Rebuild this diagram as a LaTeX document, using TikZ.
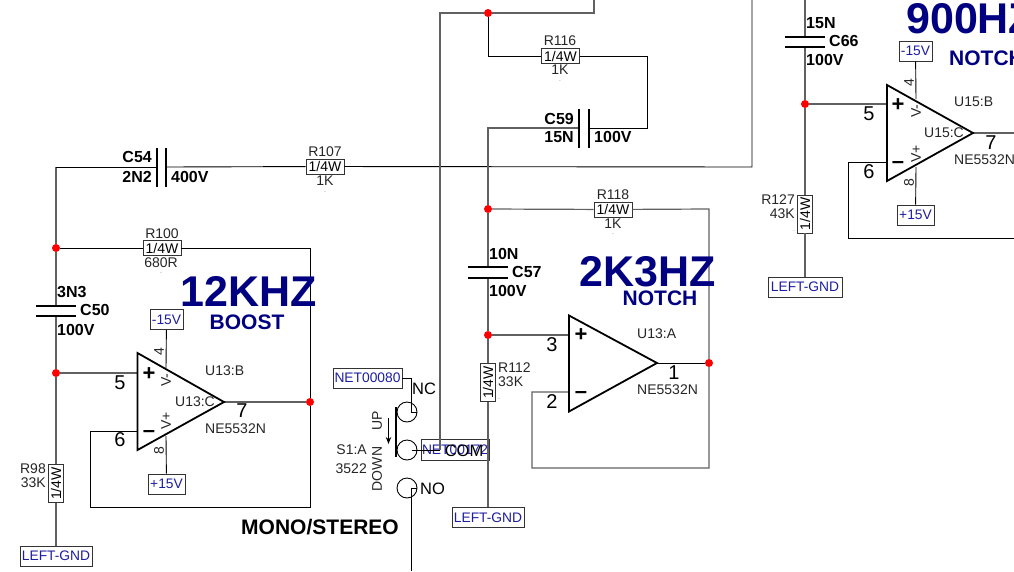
\documentclass[tikz,border=0pt]{standalone}
\usepackage{fontspec}
\setmainfont{Liberation Sans}
\usepackage{tikz}
\usetikzlibrary{arrows.meta}
\definecolor{labelnavy}{RGB}{0,0,128}
\definecolor{netblue}{RGB}{30,30,160}
\tikzset{
  wire/.style={draw=black,line width=0.9pt},
  softwire/.style={draw=black!62,line width=1.2pt},
  opamp/.style={draw=black,line width=1.8pt,line join=miter},
  junction/.style={circle,fill=red,draw=none,inner sep=0pt,minimum size=8pt},
  resbox/.style={draw=black!80,line width=0.9pt,fill=white,inner sep=0pt,minimum width=38pt,minimum height=15pt,font=\fontsize{14}{15}\selectfont},
  netbox/.style={draw=black!80,line width=0.9pt,fill=white,inner sep=0pt,minimum height=20pt,text=netblue,font=\fontsize{13.8}{15}\selectfont},
  vplate/.style={fill=black,inner sep=0pt,minimum width=1.5pt,minimum height=39pt},
  hplate/.style={fill=black,inner sep=0pt,minimum width=40pt,minimum height=1.5pt},
  txt/.style={inner sep=0pt,text=black!85,font=\fontsize{14}{15}\selectfont},
  capbold/.style={inner sep=0pt,font=\fontsize{16}{18}\selectfont\bfseries},
  pinnum/.style={inner sep=0pt,font=\fontsize{20}{22}\selectfont},
  signbold/.style={inner sep=0pt,font=\fontsize{22}{24}\selectfont\bfseries},
  swtxt/.style={inner sep=0pt,font=\fontsize{16.5}{18}\selectfont},
  bigtitle/.style={inner sep=0pt,text=labelnavy,font=\fontsize{43}{46}\selectfont\bfseries},
  subtitle/.style={inner sep=0pt,text=labelnavy,font=\fontsize{21}{23}\selectfont\bfseries},
  tinymark/.style={inner sep=0pt,font=\fontsize{5}{6}\selectfont},
  swcircle/.style={circle,draw=black,line width=0.9pt,inner sep=0pt,minimum size=20pt}
}
\begin{document}
\begin{tikzpicture}[x=1pt,y=-1pt]
\clip (0,0) rectangle (1014,571);
\useasboundingbox (0,0) rectangle (1014,571);
\fill[white] (0,0) rectangle (1014,571);
% 12 kHz boost
\node[junction] (j50) at (56,248) {};
\node[junction] (j51) at (56,373) {};
\node[junction] (j52) at (310,402) {};
\node[vplate] (c54a) at (157,167) {};
\node[vplate,minimum width=2pt] (c54b) at (166,167) {};
\node[hplate,minimum height=2pt] (c50a) at (56,306) {};
\node[hplate] (c50b) at (56,316) {};
\node[resbox] (r107) at (325,166.5) {1/4W};
\node[resbox] (r100) at (162,248) {1/4W};
\node[resbox,rotate=90] (r98) at (56,483.5) {1/4W};
\node[netbox,minimum width=72pt] (gnd1) at (56,556) {LEFT-GND};
\node[netbox,minimum width=33pt] (neg1) at (166.5,319.5) {-15V};
\node[netbox,minimum width=37pt] (pos1) at (166.5,484) {+15V};
\coordinate (u13p) at (137.5,373);
\coordinate (u13n) at (137.5,431);
\coordinate (u13o) at (224,402);
\coordinate (u13v) at (166,368);
\coordinate (u13w) at (166,436);
\coordinate (fb1a) at (90,431);
\coordinate (fb1b) at (90,507);
\coordinate (fb1c) at (310,507);
\coordinate (fb1d) at (310,248);
\coordinate (top1) at (56,167);
\coordinate (top2) at (752,167);
\coordinate (top3) at (752,0);
\draw[softwire] (top1) -- (j50) -- (c50a);
\draw[softwire] (c50b) -- (j51) -- (r98) -- (gnd1);
\draw[wire] (top1) -- (c54a);
\draw[wire] (c54b) -- (r107) -- (top2) -- (top3);
\draw[wire] (j50) -- (r100) -- (fb1d) -- (j52) -- (fb1c) -- (fb1b) -- (fb1a) -- (u13n);
\draw[softwire] (j51) -- (u13p);
\draw[softwire] (u13o) -- (j52);
\draw[wire] (neg1) -- (u13v);
\draw[wire] (pos1) -- (u13w);
\draw[opamp] (137.5,353) -- (137.5,450) -- (u13o) -- cycle;
\node[signbold] at (149,374) {+};
\node[signbold] at (149,434) {–};
\node[pinnum] at (120,383) {5};
\node[pinnum] at (120,440) {6};
\node[pinnum] at (242,411) {7};
\node[txt,rotate=90] at (159,352) {4};
\node[txt,rotate=90] at (159,451) {8};
\node[txt,rotate=90] at (166,380) {V-};
\node[txt,rotate=90] at (166,421) {V+};
\node[txt,anchor=west] at (205,371) {U13:B};
\node[txt] at (195,402) {U13:C};
\node[txt,anchor=west] at (205,429) {NE5532N};
\node[capbold,anchor=east] at (152,157) {C54};
\node[capbold,anchor=east] at (152,177) {2N2};
\node[capbold,anchor=west] at (171,177) {400V};
\node[capbold,anchor=west] at (57,292) {3N3};
\node[capbold,anchor=west] at (80,310) {C50};
\node[capbold,anchor=west] at (57,330) {100V};
\node[txt] at (325,152) {R107};
\node[txt] at (325,181) {1K};
\node[txt] at (162,234) {R100};
\node[txt] at (161,263) {680R};
\node[txt,anchor=east] at (46,469) {R98};
\node[txt,anchor=east] at (46,483) {33K};
\node[tinymark] at (325,192) {.};
\node[tinymark] at (161,273) {.};
\node[bigtitle] at (249,291) {12KHZ};
\node[subtitle] at (247,322) {BOOST};
% switch
\node[subtitle,text=black] at (320,527) {MONO/STEREO};
\node[netbox,minimum width=69pt] (net80) at (367.5,378) {NET00080};
\node[netbox,minimum width=68pt,minimum height=21pt] (net72) at (455,450) {NET00172};
\node[swcircle] (swnc) at (407,412) {};
\node[swcircle] (swcom) at (407,450) {};
\node[swcircle] (swno) at (407,488) {};
\coordinate (ncpin) at (411.5,412);
\coordinate (ncend) at (417,412);
\coordinate (ncup) at (411.5,378);
\coordinate (compin) at (411.5,450);
\coordinate (comend) at (440,450);
\coordinate (nopin) at (411.5,488);
\coordinate (noend) at (417,488);
\coordinate (nodown) at (411.5,571);
\coordinate (barup) at (396,407);
\coordinate (bardown) at (396,457);
\coordinate (tipup) at (388.5,418);
\coordinate (tipdown) at (388.5,444);
\draw[wire] (net80) -- (ncup) -- (ncpin) -- (ncend);
\draw[wire] (compin) -- (comend);
\draw[wire] (nodown) -- (nopin) -- (noend);
\draw[line width=1.8pt] (barup) -- (bardown);
\draw[line width=1.6pt,-{Stealth[length=7pt,width=5.5pt]}] (tipup) -- (tipdown);
\node[swtxt,anchor=west] at (412,389) {NC};
\node[swtxt] at (464,451) {COM};
\node[swtxt,anchor=west] at (420,489) {NO};
\node[txt,anchor=east] at (367,450) {S1:A};
\node[txt,anchor=east] at (367,469) {3522};
\node[txt,rotate=90] at (377,421) {UP};
\node[txt,rotate=90] at (377,469) {DOWN};
% 2.3 kHz notch
\node[junction] (j60) at (488,13) {};
\node[junction] (j61) at (488,209) {};
\node[junction] (j62) at (488,335) {};
\node[junction] (j63) at (709,363) {};
\node[vplate] (c59a) at (579,128) {};
\node[vplate,minimum width=2pt] (c59b) at (589,128) {};
\node[hplate,minimum height=2pt] (c57a) at (488,267) {};
\node[hplate] (c57b) at (488,278) {};
\node[resbox] (r116) at (560.5,56) {1/4W};
\node[resbox] (r118) at (613,209.5) {1/4W};
\node[resbox,rotate=90] (r112) at (488,382.5) {1/4W};
\node[netbox,minimum width=72pt] (gnd2) at (488,517.5) {LEFT-GND};
\coordinate (u14p) at (569,335);
\coordinate (u14n) at (569,392);
\coordinate (u14o) at (657,363);
\coordinate (net1a) at (594,0);
\coordinate (net1b) at (594,13);
\coordinate (net1c) at (440,13);
\coordinate (net1d) at (440,450);
\coordinate (r116l) at (488,56);
\coordinate (r116r) at (647,56);
\coordinate (c59r) at (647,128);
\coordinate (c59l) at (488,128);
\coordinate (r118r) at (709,209);
\coordinate (fb2a) at (709,468);
\coordinate (fb2b) at (532,468);
\coordinate (fb2c) at (532,392);
\draw[softwire] (net1a) -- (net1b) -- (j60) -- (net1c) -- (net1d);
\draw[wire] (j60) -- (r116l) -- (r116) -- (r116r) -- (c59r) -- (c59b);
\draw[softwire] (c59a) -- (c59l) -- (j61) -- (c57a);
\draw[softwire] (c57b) -- (j62) -- (r112) -- (gnd2);
\draw[softwire] (j61) -- (r118) -- (r118r) -- (j63) -- (fb2a) -- (fb2b) -- (fb2c) -- (u14n);
\draw[softwire] (j62) -- (u14p);
\draw[wire] (u14o) -- (j63);
\draw[opamp] (569,315.5) -- (569,411.5) -- (u14o) -- cycle;
\node[signbold] at (581,335) {+};
\node[signbold] at (581,395) {–};
\node[pinnum] at (552,345) {3};
\node[pinnum] at (552,402) {2};
\node[pinnum] at (674,373) {1};
\node[txt,anchor=west] at (637,334) {U13:A};
\node[txt,anchor=west] at (637,390) {NE5532N};
\node[capbold,anchor=east] at (574,119) {C59};
\node[capbold,anchor=east] at (574,137) {15N};
\node[capbold,anchor=west] at (594,137) {100V};
\node[capbold,anchor=west] at (489,254) {10N};
\node[capbold,anchor=west] at (512,272) {C57};
\node[capbold,anchor=west] at (489,291) {100V};
\node[txt] at (560,41) {R116};
\node[txt] at (560,70) {1K};
\node[txt] at (613,195) {R118};
\node[txt] at (613,224) {1K};
\node[txt,anchor=west] at (498,368) {R112};
\node[txt,anchor=west] at (498,382) {33K};
\node[tinymark] at (560,81) {.};
\node[tinymark] at (613,234) {.};
\node[tinymark] at (499,399) {.};
\node[bigtitle] at (648,272) {2K3HZ};
\node[subtitle] at (660,298) {NOTCH};
% 900 Hz notch
\node[junction] (j70) at (805,104) {};
\node[hplate,minimum height=2pt] (c66a) at (805,37) {};
\node[hplate] (c66b) at (805,47) {};
\node[resbox,rotate=90] (r127) at (805,214) {1/4W};
\node[netbox,minimum width=74pt] (gnd3) at (805,287) {LEFT-GND};
\node[netbox,minimum width=33pt] (neg2) at (915.5,51) {-15V};
\node[netbox,minimum width=37pt] (pos2) at (915.5,215) {+15V};
\coordinate (c66t) at (805,0);
\coordinate (u15p) at (887,104);
\coordinate (u15n) at (887,162);
\coordinate (u15o) at (973,133);
\coordinate (u15v) at (916,99);
\coordinate (u15w) at (916,167);
\coordinate (u15e) at (1014,133);
\coordinate (fb3a) at (848,162);
\coordinate (fb3b) at (848,238);
\coordinate (fb3c) at (1014,238);
\draw[softwire] (c66t) -- (c66a);
\draw[softwire] (c66b) -- (j70) -- (r127) -- (gnd3);
\draw[softwire] (j70) -- (u15p);
\draw[wire] (u15n) -- (fb3a) -- (fb3b) -- (fb3c);
\draw[softwire] (u15o) -- (u15e);
\draw[wire] (neg2) -- (u15v);
\draw[wire] (pos2) -- (u15w);
\draw[opamp] (887,85) -- (887,181) -- (u15o) -- cycle;
\node[signbold] at (898,105) {+};
\node[signbold] at (898,165) {–};
\node[pinnum] at (869,114) {5};
\node[pinnum] at (869,172) {6};
\node[pinnum] at (991,143) {7};
\node[txt,rotate=90] at (909,83) {4};
\node[txt,rotate=90] at (909,183) {8};
\node[txt,rotate=90] at (916,111) {V-};
\node[txt,rotate=90] at (916,154) {V+};
\node[txt,anchor=west] at (954,102) {U15:B};
\node[txt] at (944,133) {U15:C};
\node[txt,anchor=west] at (954,160) {NE5532N};
\node[capbold,anchor=west] at (806,23) {15N};
\node[capbold,anchor=west] at (829,41) {C66};
\node[capbold,anchor=west] at (806,60) {100V};
\node[txt,anchor=east] at (795,200) {R127};
\node[txt,anchor=east] at (795,214) {43K};
\node[tinymark] at (794,231) {.};
\node[bigtitle,anchor=west] at (906,19) {900HZ};
\node[subtitle,anchor=west] at (949,58) {NOTCH};
\end{tikzpicture}
\end{document}
